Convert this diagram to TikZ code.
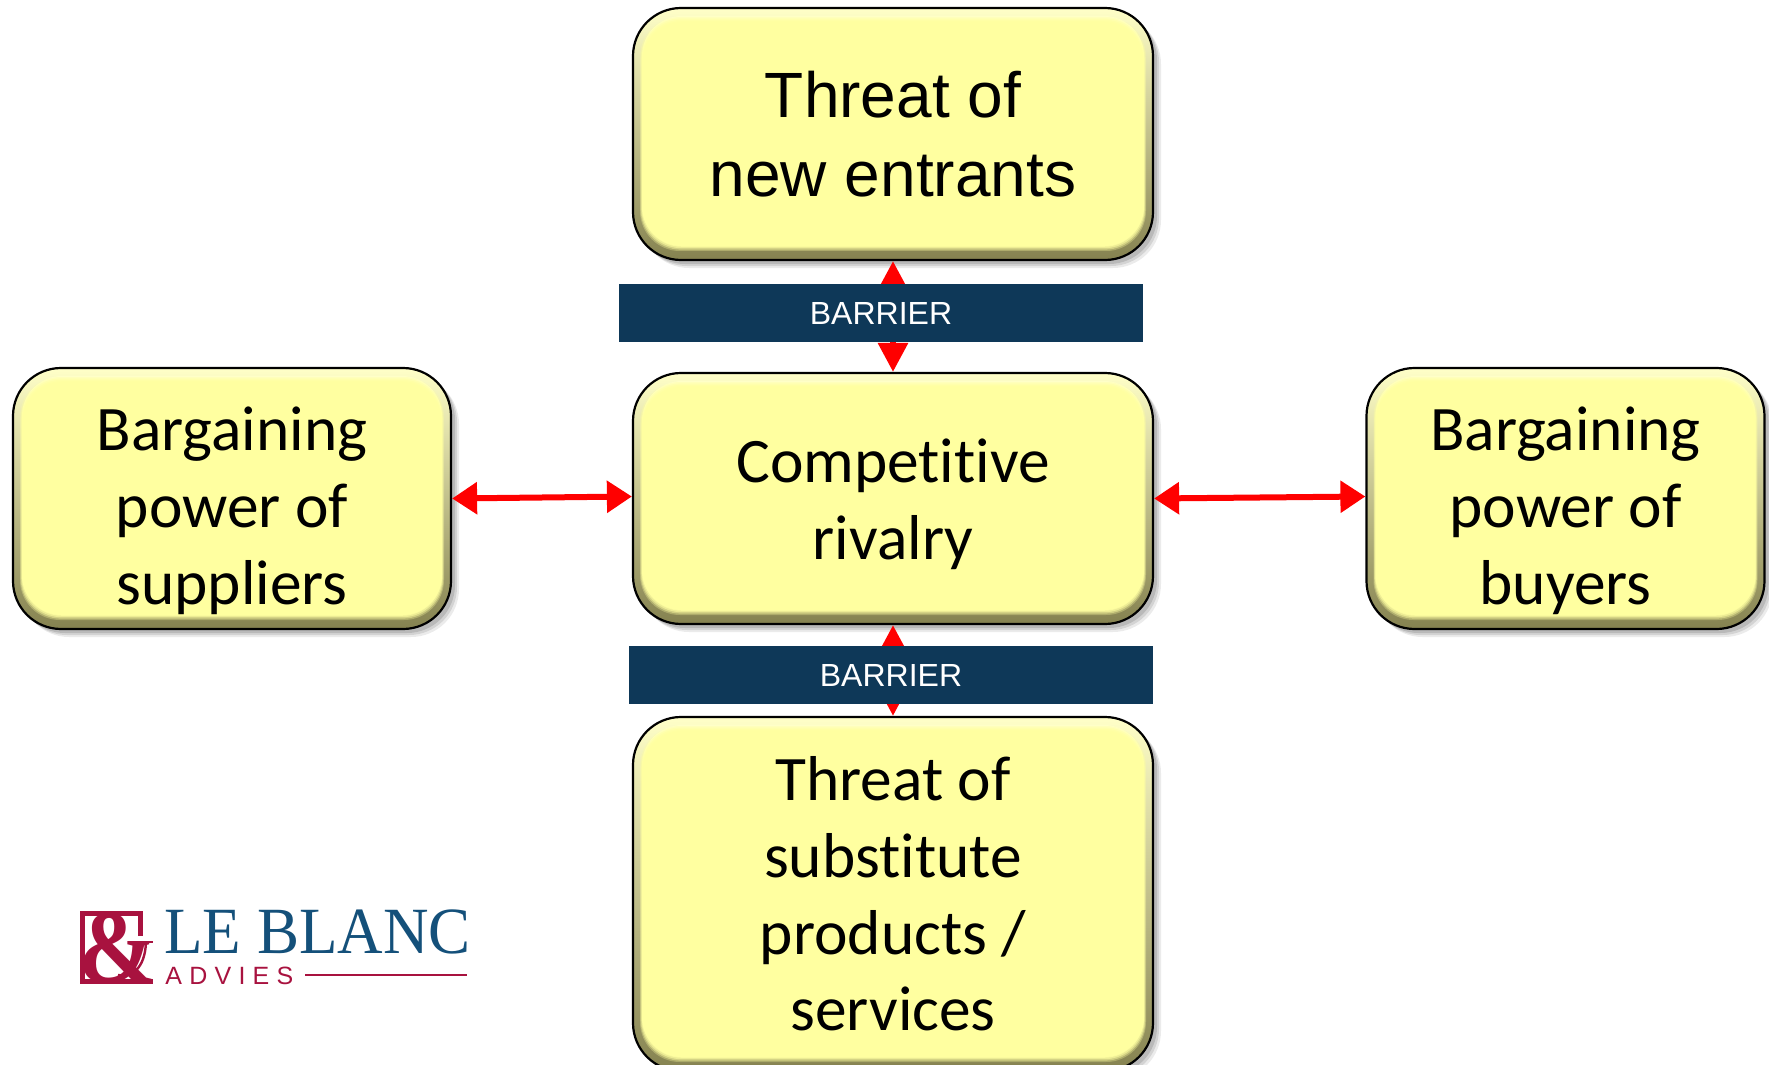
\documentclass[tikz,border=0pt]{standalone}
\usepackage{fontspec}
\newfontfamily\calibrifont[Ligatures=NoCommon]{Carlito}
\newfontfamily\arialfont{Liberation Sans}
\newfontfamily\logofont{Liberation Serif}
\usetikzlibrary{arrows.meta,shadows}
\definecolor{boxface}{HTML}{FFFFA0}
\definecolor{boxlight}{HTML}{FFFFC8}
\definecolor{boxside}{HTML}{DCDC8C}
\definecolor{boxdark}{HTML}{858250}
\definecolor{barrierblue}{HTML}{0E3858}
\definecolor{logored}{HTML}{A8123F}
\definecolor{logoblue}{HTML}{14507A}
\newcommand{\dropstrut}[1]{\rule{0pt}{#1}}
\tikzset{>=latex}
\tikzset{
	forcebox/.style={rectangle,rounded corners=24pt,draw=black,line width=1.1pt,inner sep=0pt,align=center,text=black,
		top color=boxlight,middle color=boxside,bottom color=boxdark,
		drop shadow={shadow xshift=4pt,shadow yshift=-4pt,opacity=.08,fill=black},
		drop shadow={shadow xshift=3pt,shadow yshift=-3pt,opacity=.1,fill=black},
		drop shadow={shadow xshift=2pt,shadow yshift=-2pt,opacity=.12,fill=black},
		path picture={
			\fill[boxlight,rounded corners=20pt] ([shift={(4.5pt,7pt)}]path picture bounding box.south west) rectangle ([shift={(-4.5pt,-4pt)}]path picture bounding box.north east);
			\foreach \bw/\bo in {0/.3,1/.45,2/.6,3/.8,4/1}
				\fill[boxface,opacity=\bo,rounded corners=20pt] ([shift={(3.5pt+0.35*\bw pt,4.5pt+0.7*\bw pt)}]path picture bounding box.south west) rectangle ([shift={(-3.5pt-0.35*\bw pt,-4.5pt-0.7*\bw pt)}]path picture bounding box.north east);
		}},
	calibritext/.style={font=\calibrifont\fontsize{31.7}{38.4}\selectfont},
	arialtext/.style={font=\arialfont\fontsize{32}{39.5}\selectfont},
	barrierbar/.style={rectangle,fill=barrierblue,text=white,inner sep=0pt,minimum width=262pt,minimum height=29pt,font=\arialfont\fontsize{16}{18}\selectfont},
	forcearrow/.style={draw=red,line width=3pt,{Triangle[length=12.5pt,width=15.5pt]}-{Triangle[length=12.5pt,width=15.5pt]}},
	vertarrow/.style={draw=red,line width=3pt,{Triangle[length=14.5pt,width=14.5pt]}-{Triangle[length=14.5pt,width=14.5pt]}},
}

\begin{document}
\begin{tikzpicture}[x=0.5pt,y=-0.5pt]
	\useasboundingbox (0,0) rectangle (1769,1065);

	\node[forcebox,arialtext,minimum width=260pt,minimum height=126pt] (entrants) at (893,134) {Threat of\\new entrants};
	\node[forcebox,calibritext,minimum width=260pt,minimum height=125.5pt] (rivalry) at (893,498.5) {\dropstrut{28pt}Competitive\\rivalry};
	\node[forcebox,calibritext,minimum width=260pt,minimum height=177pt] (substitutes) at (893,894) {Threat of\\substitute\\products /\\services};
	\node[forcebox,calibritext,minimum width=219pt,minimum height=130.5pt] (suppliers) at (232,498.5) {\dropstrut{34pt}Bargaining\\power of\\suppliers};
	\node[forcebox,calibritext,minimum width=199pt,minimum height=130.5pt] (buyers) at (1565.5,498.5) {\dropstrut{34pt}Bargaining\\power of\\buyers};

	\draw[vertarrow] (entrants.south) -- (rivalry.north);
	\draw[vertarrow] (rivalry.south) -- (substitutes.north);
	\draw[forcearrow] (suppliers.east) -- ([yshift=1pt]rivalry.west);
	\draw[forcearrow] (rivalry.east) -- ([yshift=1pt]buyers.west);

	\node[barrierbar] (barriertop) at (881,313) {BARRIER};
	\node[barrierbar] (barrierbottom) at (891,675) {BARRIER};

	% logo
	\draw[logored,line width=2.6pt] (140.5,936) -- (140.5,913.5) -- (82.5,913.5) -- (82.5,981.5) -- (153,981.5);
	\draw[logored,line width=1pt] (130,942) -- (153,942);
	\draw[logored,line width=1.2pt] (146,942) .. controls (145,970) and (130,978) .. (118,975);
	\node[text=logored,inner sep=0pt,xscale=.9,font=\logofont\bfseries\fontsize{52}{52}\selectfont] (ampersand) at (117,948) {\&};
	\node[text=logoblue,inner sep=0pt,anchor=base west,xscale=.955,font=\logofont\fontsize{33}{34}\selectfont] (leblanc) at (164,953) {LE BLANC};
	\node[text=logored,inner sep=0pt,anchor=base west,font=\arialfont\fontsize{12.5}{13}\selectfont\addfontfeature{LetterSpace=29}] (advies) at (165,984) {ADVIES};
	\coordinate (rulestart) at (305,975);
	\coordinate (ruleend) at (467,975);
	\draw[logored,line width=1pt] (rulestart) -- (ruleend);
\end{tikzpicture}
\end{document}
